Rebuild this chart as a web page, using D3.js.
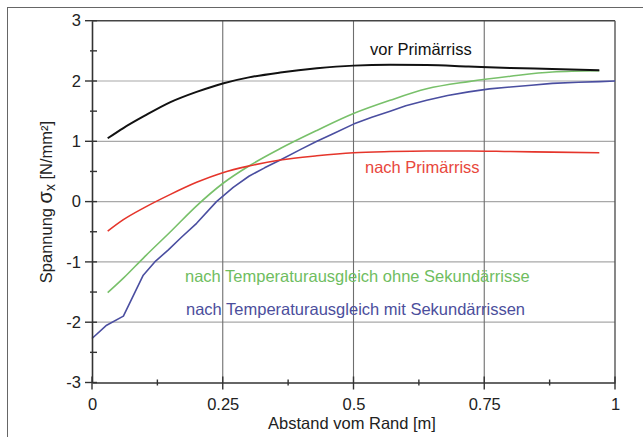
<!DOCTYPE html>
<html>
<head>
<meta charset="utf-8">
<script src="https://cdn.jsdelivr.net/npm/d3@7"></script>
<style>
  body { margin: 0; background: #fff; }
  svg { display: block; font-family: 'Liberation Sans', Arial, sans-serif; }
</style>
</head>
<body>
<svg id="chart" width="643" height="437"></svg>
<script>
// x positions (m) shared by the first three curves
let xValues = [0.03, 0.06, 0.1, 0.15, 0.2, 0.25, 0.3, 0.36, 0.43, 0.5, 0.57, 0.64, 0.72, 0.8, 0.88, 0.97];

let vorPrimaer = [1.05, 1.22, 1.42, 1.65, 1.82, 1.96, 2.06, 2.14, 2.21, 2.255, 2.27, 2.265, 2.24, 2.215, 2.2, 2.18];
let nachPrimaer = [-0.49, -0.3, -0.1, 0.12, 0.32, 0.48, 0.59, 0.69, 0.76, 0.81, 0.83, 0.84, 0.84, 0.83, 0.82, 0.81];
let ohneSekundaer = [-1.51, -1.27, -0.92, -0.5, -0.07, 0.3, 0.59, 0.88, 1.18, 1.46, 1.68, 1.87, 1.99, 2.08, 2.15, 2.17];

// the last curve has its own x positions (kinks near the edge)
let xMitSek = [0, 0.028, 0.06, 0.098, 0.12, 0.146, 0.17, 0.2, 0.238, 0.27, 0.3, 0.33, 0.36, 0.4, 0.43, 0.46, 0.5,
  0.535, 0.57, 0.6, 0.64, 0.68, 0.72, 0.76, 0.8, 0.84, 0.88, 0.93, 0.97, 1.0];
let mitSekundaer = [-2.27, -2.05, -1.9, -1.22, -1.0, -0.8, -0.6, -0.36, 0, 0.235, 0.42, 0.56, 0.69, 0.87, 1.0, 1.12, 1.285,
  1.4, 1.5, 1.59, 1.68, 1.76, 1.82, 1.87, 1.9, 1.93, 1.96, 1.98, 1.99, 2.0];

let xTicks = [0, 0.25, 0.5, 0.75, 1];
let xTickLabels = ['0', '0.25', '0.5', '0.75', '1'];
let yTicks = [-3, -2, -1, 0, 1, 2, 3];

let svg = d3.select('#chart');

// outer frame (picture is cropped at right and bottom)
svg.append('rect')
  .attr('x', 7.5).attr('y', 7.5)
  .attr('width', 650).attr('height', 450)
  .attr('fill', 'none')
  .attr('stroke', '#666')
  .attr('stroke-width', 1);

let paddingL = 92;
let paddingT = 20.7;
let plotW = 615 - paddingL;
let plotH = 382.5 - paddingT;

let g = svg.append('g')
  .attr('transform', `translate(${paddingL},${paddingT})`);

let x = d3.scaleLinear().domain([0, 1]).range([0, plotW]);
let y = d3.scaleLinear().domain([-3, 3]).range([plotH, 0]);

// grid lines
g.append('g')
  .selectAll('line')
  .data(yTicks.filter(d => d > -3 && d < 3))
  .join('line')
  .attr('x1', 0).attr('x2', plotW)
  .attr('y1', d => y(d)).attr('y2', d => y(d))
  .attr('stroke', '#a8a8a8')
  .attr('stroke-width', 1.2);

g.append('g')
  .selectAll('line')
  .data(xTicks.filter(d => d > 0 && d < 1))
  .join('line')
  .attr('x1', d => x(d)).attr('x2', d => x(d))
  .attr('y1', 0).attr('y2', plotH)
  .attr('stroke', '#6e6e6e')
  .attr('stroke-width', 1.1);

// frame top and right
g.append('line')
  .attr('x1', 0).attr('x2', plotW).attr('y1', 0).attr('y2', 0)
  .attr('stroke', '#444').attr('stroke-width', 1.4);
g.append('line')
  .attr('x1', plotW).attr('x2', plotW).attr('y1', 0).attr('y2', plotH)
  .attr('stroke', '#555').attr('stroke-width', 1.4);

// curves
let lineShared = d3.line()
  .x((d, i) => x(xValues[i]))
  .y(d => y(d))
  .curve(d3.curveMonotoneX);

let lineMit = d3.line()
  .x((d, i) => x(xMitSek[i]))
  .y(d => y(d));

g.append('path')
  .datum(mitSekundaer)
  .attr('fill', 'none')
  .attr('stroke', '#4a4ea0')
  .attr('stroke-width', 1.6)
  .attr('stroke-linejoin', 'round')
  .attr('d', lineMit);

g.append('path')
  .datum(ohneSekundaer)
  .attr('fill', 'none')
  .attr('stroke', '#78c06a')
  .attr('stroke-width', 1.6)
  .attr('d', lineShared);

g.append('path')
  .datum(nachPrimaer)
  .attr('fill', 'none')
  .attr('stroke', '#e5352b')
  .attr('stroke-width', 1.6)
  .attr('d', lineShared);

g.append('path')
  .datum(vorPrimaer)
  .attr('fill', 'none')
  .attr('stroke', '#111')
  .attr('stroke-width', 2)
  .attr('d', lineShared);

// axes with ticks crossing the axis line
let xAxis = d3.axisBottom(x)
  .tickValues(xTicks)
  .tickSize(0)
  .tickPadding(16)
  .tickFormat((d, i) => xTickLabels[i]);

let yAxis = d3.axisLeft(y)
  .tickValues(yTicks)
  .tickSize(0)
  .tickPadding(11)
  .tickFormat(d => String(d));

let gx = g.append('g')
  .attr('transform', `translate(0,${plotH})`)
  .call(xAxis);

let gy = g.append('g')
  .call(yAxis);

[gx, gy].forEach(a => {
  a.select('.domain').attr('stroke', '#333').attr('stroke-width', 1.6);
  a.selectAll('text')
    .attr('fill', '#222')
    .style('font-size', '16.5px')
    .style('font-family', "'Liberation Sans', Arial, sans-serif");
});

// tick marks: major and minor
let xMinor = d3.range(0, 1.0001, 0.125);
g.append('g')
  .selectAll('line')
  .data(xMinor)
  .join('line')
  .attr('x1', d => x(d)).attr('x2', d => x(d))
  .attr('y1', (d, i) => plotH - (i % 2 === 0 ? 6 : 3))
  .attr('y2', (d, i) => plotH + (i % 2 === 0 ? 7 : 3))
  .attr('stroke', '#333').attr('stroke-width', 1.4);

let yMinor = d3.range(-3, 3.0001, 0.5);
g.append('g')
  .selectAll('line')
  .data(yMinor)
  .join('line')
  .attr('y1', d => y(d)).attr('y2', d => y(d))
  .attr('x1', (d, i) => i % 2 === 0 ? -7 : -2)
  .attr('x2', 5)
  .attr('stroke', '#333').attr('stroke-width', 1.4);

// axis titles
svg.append('text')
  .attr('x', 352)
  .attr('y', 429)
  .attr('text-anchor', 'middle')
  .attr('fill', '#222')
  .style('font-size', '16.5px')
  .text('Abstand vom Rand [m]');

let yTitle = svg.append('text')
  .attr('transform', 'translate(52,202) rotate(-90)')
  .attr('text-anchor', 'middle')
  .attr('fill', '#222')
  .style('font-size', '16.5px');
yTitle.append('tspan').text('Spannung ');
yTitle.append('tspan').style('font-size', '20px').text('σ');
yTitle.append('tspan').attr('dy', 3).style('font-size', '14px').text('x');
yTitle.append('tspan').attr('dy', -3).text('  [N/mm²]');

// curve labels
let labels = [
  {t: 'vor Primärriss', x: 370, y: 55, c: '#111'},
  {t: 'nach Primärriss', x: 365, y: 173, c: '#e8473c'},
  {t: 'nach Temperaturausgleich ohne Sekundärrisse', x: 185, y: 282, c: '#6fbd5f'},
  {t: 'nach Temperaturausgleich mit Sekundärrissen', x: 186, y: 315, c: '#4b4e9c'}
];
svg.append('g')
  .selectAll('text')
  .data(labels)
  .join('text')
  .attr('x', d => d.x)
  .attr('y', d => d.y)
  .attr('fill', d => d.c)
  .style('font-size', '16.5px')
  .text(d => d.t);
</script>
</body>
</html>
